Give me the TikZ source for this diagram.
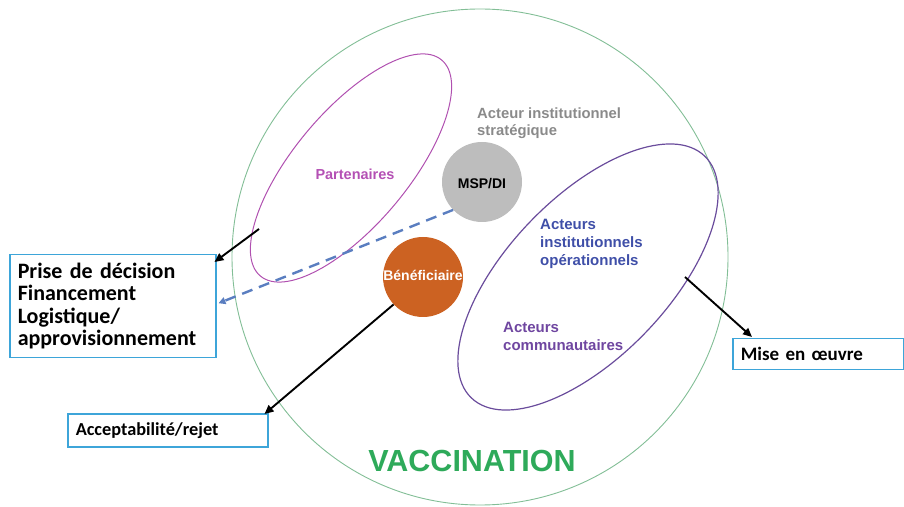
\documentclass[tikz,border=0pt]{standalone}
\usepackage{fontspec}
\setmainfont{Liberation Sans}
\newfontfamily\calfont{Carlito}
\usetikzlibrary{arrows.meta,calc}
\definecolor{cgreen}{RGB}{130,190,150}
\definecolor{cmagenta}{RGB}{176,80,176}
\definecolor{cpurple}{RGB}{106,76,156}
\definecolor{tmagenta}{RGB}{180,80,180}
\definecolor{tblue}{RGB}{63,79,168}
\definecolor{tpurple}{RGB}{111,70,160}
\definecolor{tgray}{RGB}{138,138,138}
\definecolor{mspgray}{RGB}{189,189,189}
\definecolor{orangeb}{RGB}{204,98,34}
\definecolor{vgreen}{RGB}{46,170,90}
\definecolor{dblue}{RGB}{90,126,192}
\definecolor{boxblue}{RGB}{61,165,217}
\tikzset{
  bx/.style={draw=boxblue, line width=1.5pt, fill=white, anchor=north west, align=left, inner xsep=8pt, inner ysep=0pt},
  arr/.style={line width=1.9pt, -{Triangle[length=9pt,width=8pt]}},
  lbl/.style={inner sep=0pt, font=\bfseries},
}
\begin{document}
\begin{tikzpicture}[x=1pt,y=1pt]
\useasboundingbox (0,0) rectangle (904,506);
% big circle
\draw[cgreen, line width=0.9pt] (480,249) circle (248);
% ellipses
\draw[cmagenta, line width=1pt, shift={(351,338)}, rotate=50] (0,0) ellipse [x radius=141, y radius=57];
\draw[cpurple, line width=1.2pt, shift={(588,229)}, rotate=46] (0,0) ellipse [x radius=168, y radius=80];
\coordinate (pa) at (259,277);
\coordinate (pb) at (685,229);
% circles
\node[circle, fill=mspgray, minimum size=80pt, inner sep=0pt] (msp) at (482,324) {};
\node[lbl, font=\bfseries\fontsize{14}{17}\selectfont] (msptxt) at (482,322) {MSP/DI};
\node[circle, fill=orangeb, minimum size=80pt, inner sep=0pt] (benef) at (423,229) {};
\node[lbl, white, font=\bfseries\fontsize{14}{17}\selectfont] (beneftxt) at (423,231) {Bénéficiaire};
% labels
\node[lbl, tgray, anchor=north west, align=left, font=\bfseries\fontsize{14.8}{17}\selectfont] (strat) at (477,398.5) {Acteur institutionnel\\stratégique};
\node[lbl, tmagenta, font=\bfseries\fontsize{14.5}{17}\selectfont] (part) at (355,332) {Partenaires};
\node[lbl, tblue, anchor=north west, align=left, font=\bfseries\fontsize{15}{18}\selectfont] (aio) at (540,287) {Acteurs\\institutionnels\\opérationnels};
\node[lbl, tpurple, anchor=north west, align=left, font=\bfseries\fontsize{15}{18}\selectfont] (ac) at (503,184) {Acteurs\\communautaires};
\node[lbl, vgreen, font=\bfseries\fontsize{30.5}{34}\selectfont] (vacc) at (472,45) {VACCINATION};
% boxes
\node[bx, minimum width=206pt, text width=190pt, minimum height=103pt, font=\calfont\bfseries\fontsize{22}{22.5}\selectfont] (box1) at (9,252) {Prise de décision\\Financement\\Logistique/\\approvisionnement};
\node[bx, minimum width=200pt, text width=184pt, minimum height=33pt, font=\calfont\bfseries\fontsize{18.3}{22}\selectfont] (box2) at (67,93) {Acceptabilité/rejet};
\node[bx, minimum width=171pt, text width=155pt, minimum height=31pt, font=\calfont\bfseries\fontsize{19}{22}\selectfont] (box3) at (732,168) {Mise en œuvre};
% connectors
\draw[arr] (pa) -- ($(box1.north east)+(-2,-8)$);
\draw[dblue, line width=2.4pt, dash pattern=on 11pt off 7pt, -{Triangle[length=7pt,width=7pt]}] (msp.224) -- ($(box1.east)+(2,3)$);
\draw[arr] (benef.223) -- ($(box2.north east)+(-4,-1)$);
\draw[arr] (pb) -- ($(box3.north west)+(20,1)$);
\end{tikzpicture}
\end{document}
